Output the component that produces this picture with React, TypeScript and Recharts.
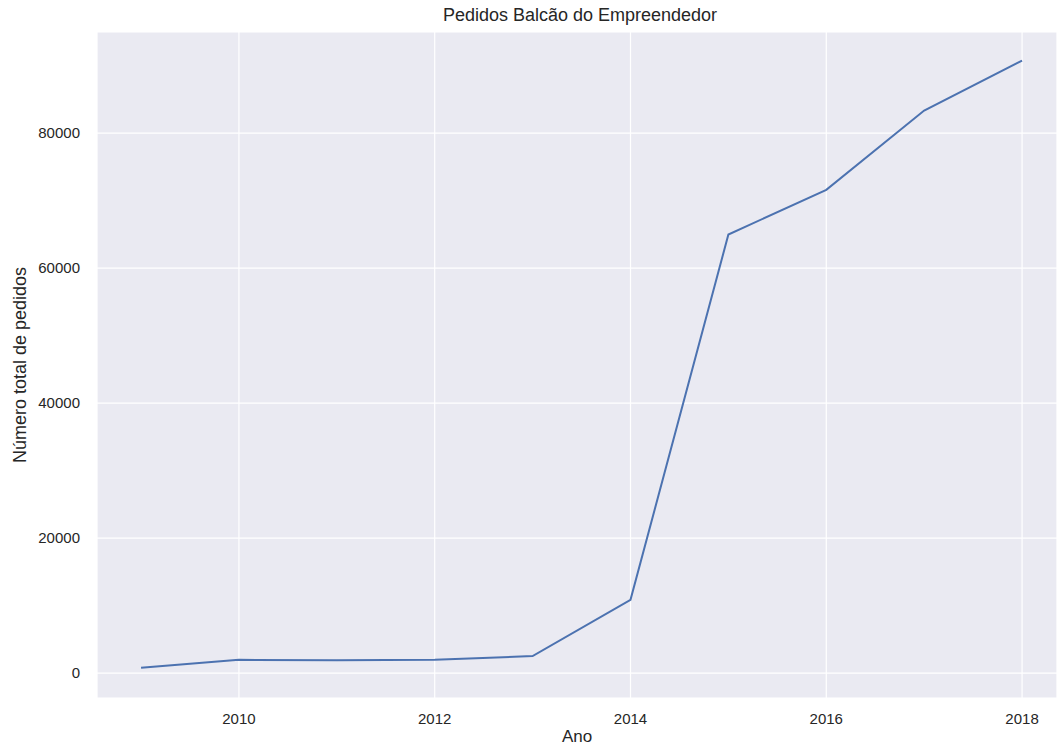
import { CartesianGrid, Label, Line, LineChart, XAxis, YAxis } from "recharts";

const years = [2009, 2010, 2011, 2012, 2013, 2014, 2015, 2016, 2017, 2018];
const pedidos = [790, 1970, 1920, 1970, 2520, 10860, 64980, 71600, 83350, 90750];
const xTicks = [2010, 2012, 2014, 2016, 2018];
const yTicks = [0, 20000, 40000, 60000, 80000];

const data = years.map((ano, i) => ({ ano, pedidos: pedidos[i] }));

const FONT = "'Liberation Sans', Arial, sans-serif";
const INK = "#262626";
const tick = { fontSize: 15, fill: INK, fontFamily: FONT };
const labelStyle = { fontSize: 18, fill: INK, fontFamily: FONT };

export default function App() {
  return (
    <div style={{ position: "absolute", left: 0, top: 0, width: 1057, height: 747, background: "#fff" }}>
      <div
        style={{
          position: "absolute",
          left: 0,
          width: 1160,
          top: 5,
          textAlign: "center",
          fontFamily: FONT,
          fontSize: 18,
          color: INK,
        }}
      >
        Pedidos Balcão do Empreendedor
      </div>
      <LineChart width={1057} height={747} data={data} margin={{ top: 32, right: 0, left: 0, bottom: 0 }}>
        <CartesianGrid fill="#EAEAF2" stroke="#ffffff" strokeWidth={1.2} />
        <XAxis
          dataKey="ano"
          type="number"
          domain={[2008.55, 2018.357]}
          ticks={xTicks}
          allowDataOverflow
          height={49}
          tick={tick}
          tickLine={false}
          axisLine={false}
          tickSize={0}
          tickMargin={15}
        >
          <Label value="Ano" position="insideBottom" offset={5} style={{ ...labelStyle, fontSize: 17 }} />
        </XAxis>
        <YAxis
          type="number"
          domain={[-3685, 94985]}
          ticks={yTicks}
          allowDataOverflow
          width={97}
          tick={tick}
          tickLine={false}
          axisLine={false}
          tickSize={0}
          tickMargin={17}
        >
          <Label
            value="Número total de pedidos"
            angle={-90}
            position="insideLeft"
            offset={20}
            style={{ ...labelStyle, textAnchor: "middle" }}
          />
        </YAxis>
        <Line
          type="linear"
          dataKey="pedidos"
          stroke="#4C72B0"
          strokeWidth={2}
          dot={false}
          activeDot={false}
          isAnimationActive={false}
        />
      </LineChart>
    </div>
  );
}
